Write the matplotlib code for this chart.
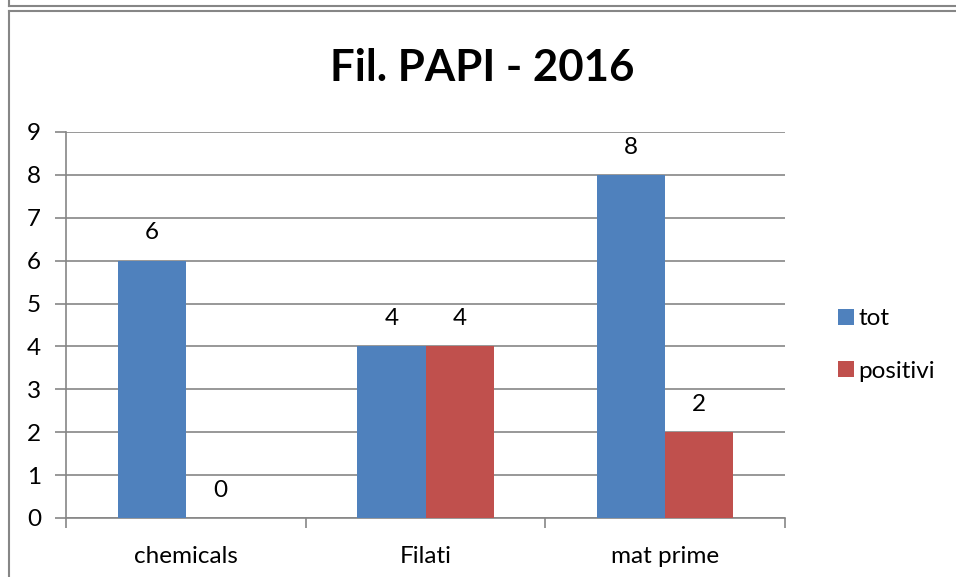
import matplotlib
matplotlib.use("Agg")
import matplotlib.pyplot as plt
from matplotlib.lines import Line2D
import numpy as np

categories = ["chemicals", "Filati", "mat prime"]
tot = [6, 4, 8]
positivi = [0, 4, 2]
series_names = ["tot", "positivi"]
title = "Fil. PAPI - 2016"
yticks = list(range(0, 10))

plt.rcParams['font.family'] = ['Lato', 'DejaVu Sans']

fig = plt.figure(figsize=(9.56, 5.77), dpi=100)
W, H = 956, 577
ax = fig.add_axes([66 / W, 1 - 518 / H, (785 - 66) / W, (518 - 132) / H])

blue = "#4F81BD"
red = "#C0504D"
gray = "#868686"
fs = 17.5

x = np.arange(len(categories)) + 0.5
bw = 0.284
b1 = ax.bar(x - bw / 2, tot, bw, color=blue, label=series_names[0], zorder=3)
b2 = ax.bar(x + bw / 2, positivi, bw, color=red, label=series_names[1], zorder=3)

for bars in (b1, b2):
    for r in bars:
        h = r.get_height()
        ax.annotate(f"{h:g}", (r.get_x() + r.get_width() / 2, h), xytext=(0, 20),
                    textcoords="offset points", ha="center", va="center", fontsize=fs, color="black")

ax.set_xlim(0, 3)
ax.set_ylim(0, 9)
ax.set_yticks(yticks)
ax.set_yticklabels([str(v) for v in yticks], fontsize=fs)
ax.yaxis.grid(True, color=gray, linewidth=1.2, zorder=0)
ax.set_xticks([0, 1, 2, 3])
ax.set_xticklabels([])
ax.set_xticks(x, minor=True)
ax.set_xticklabels(categories, minor=True, fontsize=fs)
ax.tick_params(axis='x', which='minor', length=0, pad=20)
ax.tick_params(axis='x', which='major', length=7, width=1.2, color=gray, direction='out')
ax.tick_params(axis='y', length=8, width=1.2, color=gray, direction='out', pad=10)
for s in ["top", "right"]:
    ax.spines[s].set_visible(False)
for s in ["left", "bottom"]:
    ax.spines[s].set_color(gray)
    ax.spines[s].set_linewidth(1.2)

fig.text(482 / W, 1 - 68 / H, title, ha="center", va="center", fontsize=31.5, fontweight="bold")

# legend
leg = ax.legend(loc="center left", bbox_to_anchor=(816 / W, 1 - 345 / H), bbox_transform=fig.transFigure,
                frameon=False, fontsize=fs, handlelength=0.65, handleheight=0.65, handletextpad=0.2,
                labelspacing=1.3)

# chart frame lines (cropped Excel chart border)
fig.add_artist(Line2D([9 / W, 9 / W], [1, 1 - 5.5 / H], color=gray, lw=1.5, transform=fig.transFigure))
fig.add_artist(Line2D([9 / W, 1], [1 - 5.5 / H, 1 - 5.5 / H], color=gray, lw=1.5, transform=fig.transFigure))
fig.add_artist(Line2D([9 / W, 1], [1 - 10.5 / H, 1 - 10.5 / H], color=gray, lw=1.5, transform=fig.transFigure))
fig.add_artist(Line2D([9 / W, 9 / W], [0, 1 - 10.5 / H], color=gray, lw=1.5, transform=fig.transFigure))

fig.savefig("out.png", dpi=100)
